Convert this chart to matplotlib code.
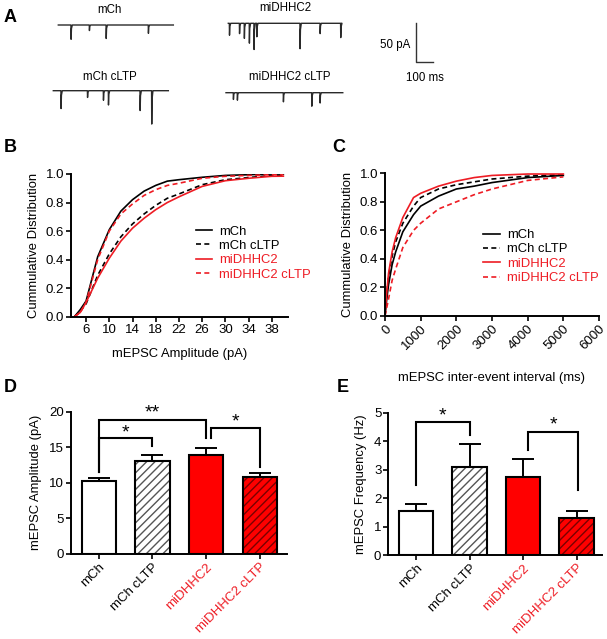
import numpy as np
import matplotlib
matplotlib.use("Agg")
import matplotlib.pyplot as plt
from matplotlib.lines import Line2D

plt.rcParams["font.family"] = ["Liberation Sans", "DejaVu Sans"]
plt.rcParams["hatch.linewidth"] = 1.0

RED = "#ee1c24"
W, H = 607, 639

# ---- panel A: example traces (event time ms, amplitude pA) ----
trace_names = ["mCh", "miDHHC2", "mCh cLTP", "miDHHC2 cLTP"]
trace_len = [665, 655, 665, 675]
ev_mch = [(73, 18), (179, 7), (276, 17), (520, 10.5)]
ev_midhhc2 = [(6, 15), (64, 13), (92, 19), (121, 25), (148, 33), (164, 17),
              (414, 32), (530, 13), (649, 18)]
ev_mch_cltp = [(44, 22.5), (197, 8.5), (289, 12), (318, 18), (501, 25), (568, 42)]
ev_midhhc2_cltp = [(42, 8.5), (65, 9.4), (331, 11.5), (495, 17), (543, 13)]
trace_events = [ev_mch, ev_midhhc2, ev_mch_cltp, ev_midhhc2_cltp]

# ---- panel B: cumulative amplitude ----
amp_x = [4, 5, 6, 8, 10, 12, 14, 16, 18, 20, 22, 26, 30, 34, 38, 40]
amp_mch = [0, 0.05, 0.11, 0.42, 0.61, 0.74, 0.82, 0.88, 0.92, 0.95, 0.96, 0.977, 0.99, 0.995, 1.0, 1.0]
amp_mch_cltp = [0, 0.04, 0.09, 0.29, 0.44, 0.56, 0.65, 0.72, 0.78, 0.83, 0.86, 0.925, 0.96, 0.975, 0.99, 0.99]
amp_midhhc2 = [0, 0.03, 0.10, 0.27, 0.41, 0.53, 0.62, 0.69, 0.75, 0.80, 0.84, 0.913, 0.953, 0.97, 0.984, 0.985]
amp_midhhc2_cltp = [0, 0.03, 0.10, 0.40, 0.60, 0.72, 0.79, 0.85, 0.89, 0.92, 0.935, 0.97, 0.984, 0.99, 0.995, 0.995]

# ---- panel C: cumulative inter-event interval ----
iei_x = [0, 50, 100, 200, 300, 500, 800, 1000, 1500, 2000, 2500, 3000, 4000, 5000]
iei_mch = [0, 0.12, 0.22, 0.36, 0.45, 0.59, 0.71, 0.77, 0.84, 0.89, 0.91, 0.935, 0.97, 0.985]
iei_mch_cltp = [0, 0.16, 0.28, 0.42, 0.52, 0.65, 0.77, 0.83, 0.89, 0.92, 0.94, 0.96, 0.98, 0.99]
iei_midhhc2 = [0, 0.17, 0.30, 0.45, 0.55, 0.69, 0.83, 0.86, 0.91, 0.945, 0.97, 0.985, 0.995, 0.995]
iei_midhhc2_cltp = [0, 0.06, 0.12, 0.25, 0.33, 0.48, 0.60, 0.65, 0.75, 0.80, 0.85, 0.89, 0.95, 0.975]

# ---- panels D/E: bars ----
groups = ["mCh", "mCh cLTP", "miDHHC2", "miDHHC2 cLTP"]
amp_mean = [10.25, 13.1, 13.9, 10.8]
amp_sem = [0.45, 0.8, 0.95, 0.6]
freq_mean = [1.55, 3.08, 2.75, 1.29]
freq_sem = [0.24, 0.82, 0.61, 0.26]

fig = plt.figure(figsize=(W / 100, H / 100), dpi=100)


def px_axes(left, top, right, bottom):
    return fig.add_axes([left / W, 1 - bottom / H, (right - left) / W, (bottom - top) / H])


# panel A
ax_a = fig.add_axes([0, 1 - 130 / H, 1, 130 / H])
ms_per_px = 100 / 17.3
pa_per_px = 50 / 39.7
ax_a.set_xlim(0, W * ms_per_px)
ax_a.set_ylim(-130 * pa_per_px, 0)
ax_a.axis("off")
trace_pos = [(58.3, 25.0), (228.3, 23.3), (53.3, 90.7), (226.0, 92.7)]
label_pos = [(109, 10), (285, 8), (110, 77), (290, 77)]
for name, evs, length, (x0, y0), (lx, ly) in zip(trace_names, trace_events, trace_len,
                                                  trace_pos, label_pos):
    xs, ys = [0], [0]
    for t, a in evs:
        xs += [t, t + 1.0, t + 3, t + 8]
        ys += [0, -a, -a * 0.25, 0]
    xs.append(length)
    ys.append(0)
    ax_a.plot(np.array(xs) + x0 * ms_per_px, np.array(ys) - y0 * pa_per_px,
              color="#2a2a2a", lw=1.0)
    ax_a.text(lx * ms_per_px, -ly * pa_per_px, name, ha="center", va="center", fontsize=8.3)
sb_x, sb_y = 416 * ms_per_px, -62.4 * pa_per_px
ax_a.plot([sb_x, sb_x, sb_x + 100], [sb_y + 50, sb_y, sb_y], color="#333333", lw=1.0)
ax_a.text(395 * ms_per_px, -45 * pa_per_px, "50 pA", ha="center", va="center", fontsize=8.3)
ax_a.text(425 * ms_per_px, -78 * pa_per_px, "100 ms", ha="center", va="center", fontsize=8.3)


def style(ax):
    for s in ["top", "right"]:
        ax.spines[s].set_visible(False)
    for s in ["left", "bottom"]:
        ax.spines[s].set_linewidth(1.4)
    ax.tick_params(width=1.2, length=3.5, pad=1.5, labelsize=9.5)


leg_labels = ["mCh", "mCh cLTP", "miDHHC2", "miDHHC2 cLTP"]
leg_colors = ["black", "black", RED, RED]
leg_dash = [False, True, False, True]


def cdf_panel(ax, x, series):
    for ys, c, d in zip(series, leg_colors, leg_dash):
        ln, = ax.plot(x, ys, color=c, lw=1.2)
        if d:
            ln.set_dashes((3, 2))
    ax.set_ylim(0, 1)
    ax.set_yticks(np.arange(0, 1.01, 0.2))
    ax.set_yticklabels([f"{v:.1f}" for v in np.arange(0, 1.01, 0.2)])
    ax.set_ylabel("Cummulative Distribution", fontsize=9.4, labelpad=4)


def cdf_legend(ax, anchor):
    handles = []
    for c, d in zip(leg_colors, leg_dash):
        h = Line2D([], [], color=c, lw=1.2)
        if d:
            h.set_dashes((3, 2))
        handles.append(h)
    leg = ax.legend(handles, leg_labels, loc="upper left", bbox_to_anchor=anchor,
                    frameon=False, fontsize=9.4, handlelength=1.25, handletextpad=0.55,
                    labelspacing=0.17, borderpad=0, borderaxespad=0)
    for t, c in zip(leg.get_texts(), leg_colors):
        t.set_color(c)


# panel B
ax_b = px_axes(71, 174, 288, 316.7)
cdf_panel(ax_b, amp_x, [amp_mch, amp_mch_cltp, amp_midhhc2, amp_midhhc2_cltp])
ax_b.set_xlim(3.4, 40.8)
ax_b.set_xticks(range(6, 39, 4))
ax_b.set_xlabel("mEPSC Amplitude (pA)", fontsize=9.4, labelpad=9)
cdf_legend(ax_b, (0.575, 0.64))
style(ax_b)

# panel C
ax_c = px_axes(385, 173.3, 599, 316)
cdf_panel(ax_c, iei_x, [iei_mch, iei_mch_cltp, iei_midhhc2, iei_midhhc2_cltp])
ax_c.set_xlim(0, 6000)
ax_c.set_xticks(range(0, 6001, 1000))
plt.setp(ax_c.get_xticklabels(), rotation=45, ha="right", rotation_mode="anchor")
ax_c.set_xlabel("mEPSC inter-event interval (ms)", fontsize=9.4, labelpad=14)
cdf_legend(ax_c, (0.46, 0.61))
style(ax_c)


def bar_panel(ax, means, sems, ylim, ylabel):
    x = np.arange(len(groups))
    fills = ["white", "white", "#ff0000", "#ff0000"]
    hatch_cols = [None, "#555555", None, "#7a0000"]
    for xi, m, f, hc in zip(x, means, fills, hatch_cols):
        ax.bar(xi, m, width=0.64, color=f, edgecolor="none", zorder=2)
        if hc:
            ax.bar(xi, m, width=0.64, color="none", edgecolor=hc, hatch="////",
                   linewidth=0, zorder=3)
        ax.bar(xi, m, width=0.64, color="none", edgecolor="black", linewidth=1.5, zorder=4)
    ax.errorbar(x, means, yerr=[np.zeros(len(x)), sems], fmt="none", ecolor="black",
                elinewidth=1.4, capsize=7.8, capthick=1.4, zorder=1)
    ax.set_ylim(*ylim)
    ax.set_xticks(x)
    ax.set_xticklabels(groups, rotation=45, ha="right", rotation_mode="anchor", fontsize=10)
    for t, c in zip(ax.get_xticklabels(), leg_colors):
        t.set_color(c)
    ax.set_ylabel(ylabel, fontsize=9.4, labelpad=5)
    style(ax)


def bracket(ax, x1, x2, y, y1, y2, star, sy):
    ax.plot([x1, x1, x2, x2], [y1, y, y, y2], color="black", lw=1.5, zorder=5,
            solid_joinstyle="miter")
    ax.text((x1 + x2) / 2, sy, star, ha="center", va="center", fontsize=14)


# panel D
ax_d = px_axes(71, 411.7, 287, 554)
bar_panel(ax_d, amp_mean, amp_sem, (0, 20), "mEPSC Amplitude (pA)")
ax_d.set_xlim(-0.52, 3.51)
ax_d.set_yticks(range(0, 21, 5))
bracket(ax_d, 0, 1, 16.26, 11.57, 15.18, "*", 17.0)
bracket(ax_d, 0, 2, 18.9, 11.57, 16.26, "**", 19.8)
bracket(ax_d, 2.09, 3, 17.67, 16.26, 12.27, "*", 18.5)

# panel E
ax_e = px_axes(388.3, 412.7, 601.7, 555)
bar_panel(ax_e, freq_mean, freq_sem, (0, 5), "mEPSC Frequency (Hz)")
ax_e.set_xlim(-0.52, 3.47)
ax_e.set_yticks(range(0, 6))
bracket(ax_e, 0, 1, 4.66, 2.46, 4.22, "*", 4.9)
bracket(ax_e, 2.09, 3.03, 4.33, 3.69, 2.28, "*", 4.57)

for letter, (lx, ly) in zip("ABCDE", [(10, 17), (10, 148), (339, 148), (10, 388), (343, 388)]):
    fig.text(lx / W, 1 - ly / H, letter, fontsize=13, fontweight="bold", ha="center", va="center")

fig.savefig("out.png", dpi=100)
